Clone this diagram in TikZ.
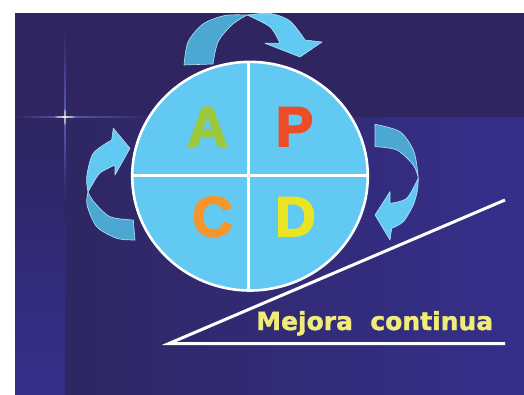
\documentclass[tikz,border=0pt]{standalone}
\usepackage{fontspec}
\setmainfont{Liberation Sans}
\newfontfamily\heavyfont[BoldFeatures={FakeBold=3.2}]{Liberation Sans}
\newfontfamily\djfont[BoldFeatures={FakeBold=1.6}]{DejaVu Sans}
\definecolor{bgtop}{HTML}{2E2561}
\definecolor{bgleft}{HTML}{2F2763}
\definecolor{bgright}{HTML}{352F8B}
\definecolor{ribdark}{HTML}{4CA7D3}
\definecolor{riblight}{HTML}{62C9F2}
\definecolor{ribedge}{HTML}{B5E3F5}
\definecolor{cfill}{HTML}{62C9F2}
\definecolor{lA}{HTML}{9BC83F}
\definecolor{lP}{HTML}{EE4B27}
\definecolor{lC}{HTML}{F5962C}
\definecolor{lD}{HTML}{E9E524}
\definecolor{mtext}{HTML}{F0EC7A}
\definecolor{flare}{HTML}{5A5CB8}
\begin{document}
\begin{tikzpicture}[x=1pt,y=-1pt,
  dark/.style={fill=ribdark,draw=ribedge,line width=0.6pt,line join=round},
  light/.style={fill=riblight,draw=ribedge,line width=0.6pt,line join=round},
  letter/.style={font=\heavyfont\fontsize{56}{56}\selectfont\bfseries,anchor=base,inner sep=0pt},
  wline/.style={draw=white,line width=3pt}]
\useasboundingbox (0,0) rectangle (524,395);
% background
\fill[white] (0,0) rectangle (524,395);
\fill[bgtop] (15,13) rectangle (524,395);
\shade[top color=bgtop,bottom color=bgright] (15,118) rectangle (65,395);
\shade[left color=bgleft,right color=bgright] (65,118) rectangle (524,395);
% flare
\shade[left color=bgtop,right color=flare] (15,116.4) rectangle (65,117.8);
\shade[left color=flare,right color=bgleft] (65,116.4) rectangle (150,117.8);
\shade[top color=bgtop,bottom color=flare] (64.4,30) rectangle (65.6,117);
\shade[top color=flare,bottom color=bgleft] (64.4,117) rectangle (65.6,200);
\fill[white!85!yellow,opacity=0.8] (65,117) ellipse [x radius=10,y radius=0.8];
\fill[white!85!yellow,opacity=0.8] (65,117) ellipse [x radius=0.7,y radius=8];
% top arrow
\path[dark] (184,65) -- plot[smooth] coordinates {(184,65) (188,42) (203,24) (225,15.5) (247,15)}
  -- plot[smooth] coordinates {(247,15) (231.7,25) (218,42) (213,64)} -- cycle;
\path[light] (247,15) -- plot[smooth] coordinates {(247,15) (270,13.5) (290,21) (305,40)}
  -- (322,42) -- (300,57) -- (265,43.3) -- (280,43.3)
  -- plot[smooth] coordinates {(280,43.3) (270,27) (247,15)} -- cycle;
% left arrow
\path[light] (130,148.3) -- (115,175) -- (115,165)
  -- plot[smooth] coordinates {(115,165) (100,173) (92,185) (88,192)}
  -- plot[smooth] coordinates {(88,192) (86.7,176.7) (93.3,153.3) (111.7,140)}
  -- (113.3,128.3) -- cycle;
\path[dark] (88,192) -- plot[smooth] coordinates {(88,192) (87,205) (96.7,226.7) (116.7,238.3) (135,240)}
  -- (133.3,220) -- plot[smooth] coordinates {(133.3,220) (110,216.7) (94,202) (88,192)} -- cycle;
% right arrow
\path[dark] (375,124.3) -- plot[smooth] coordinates {(375,124.3) (400,131.7) (414,151.7) (418.3,178)}
  -- plot[smooth] coordinates {(418.3,178) (413.3,165) (396.7,150) (375,146.7)} -- cycle;
\path[light] (418.3,178) -- plot[smooth] coordinates {(418.3,178) (417.5,190) (413.3,205) (403.3,221.7) (391.7,228.3)}
  -- (390,240) -- (375,215) -- (390,191.7) -- (390,203.3)
  -- plot[smooth] coordinates {(390,203.3) (406.7,198.3) (418.3,178)} -- cycle;
% circle
\path[fill=cfill,draw=white,line width=2.6pt] (250,176.2) ellipse [x radius=117.8,y radius=114.3];
\coordinate (ctop) at (248,62);
\coordinate (cbot) at (248,290);
\coordinate (cleft) at (132,176);
\coordinate (cright) at (368,176);
\draw[wline] (ctop) -- (cbot);
\draw[wline] (cleft) -- (cright);
% letters
\node[letter,text=lA] (A) at (207.5,146) {A};
\node[letter,text=lP] (P) at (294.5,146) {P};
\node[letter,text=lC] (C) at (212.5,236) {C};
\node[letter,text=lD] (D) at (295.5,236) {D};
% improvement lines
\coordinate (o) at (169,343.5);
\coordinate (h) at (505,343.5);
\coordinate (s) at (505,200);
\draw[wline,line cap=butt] (h) -- (o) -- (s);
\node[anchor=base west,inner sep=0pt,text=mtext,font=\djfont\fontsize{25}{25}\selectfont\bfseries] (mc) at (256,330) {Mejora\ \ continua};
\end{tikzpicture}
\end{document}
